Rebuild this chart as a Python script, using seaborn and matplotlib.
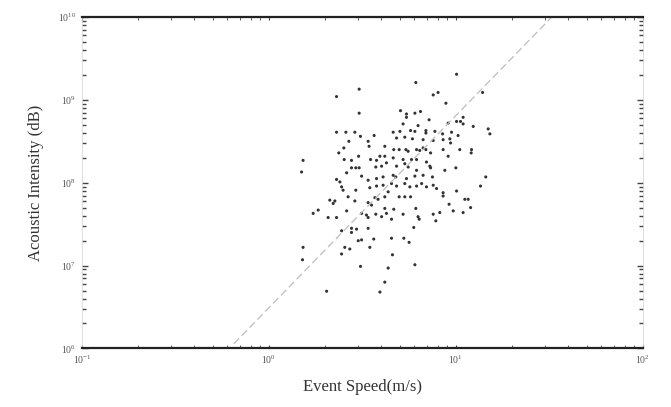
import numpy as np
import pandas as pd
import matplotlib
matplotlib.use('Agg')
import matplotlib.pyplot as plt
import seaborn as sns
from matplotlib.ticker import LogLocator, NullFormatter

# log10 of event speed (m/s) and acoustic intensity
speed_exp = [
    0.483, 0.362, 0.483, 0.362, 0.412, 0.460, 0.490, 0.563, 0.428, 0.531,
    0.536, 0.620, 0.401, 0.374, 0.480, 0.594, 0.620, 0.183, 0.403, 0.442,
    0.544, 0.576, 0.175, 0.442, 0.465, 0.483, 0.416, 0.496, 0.572, 0.603,
    0.629, 0.362, 0.380, 0.531, 0.576, 0.611, 0.389, 0.397, 0.465, 0.540,
    0.576, 0.611, 0.638,
    1.004, 0.786, 0.879, 0.905, 1.143, 0.947, 0.704, 0.736, 0.781, 0.811,
    0.736, 0.857, 1.039, 0.718, 0.798, 0.959, 1.004, 1.025, 1.039, 1.093,
    1.173, 0.665, 0.701, 0.758, 0.781, 0.840, 0.840, 0.888, 0.929, 0.977,
    1.012, 1.182, 0.683, 0.727, 0.768, 0.825, 0.879, 0.932, 0.968, 0.972,
    0.668, 0.697, 0.733, 0.745, 0.790, 0.807, 0.825, 0.840, 0.865, 0.932,
    0.959, 1.021, 1.084, 1.082, 0.665, 0.718, 0.763, 0.790, 0.843,
    0.683, 0.727, 0.745, 0.790, 0.861, 0.865, 0.941, 1.000, 0.665, 0.679,
    0.736, 0.781, 0.825, 0.875, 1.160, 0.656, 0.683, 0.727, 0.754, 0.790,
    0.817, 0.843, 0.879, 0.897, 0.932, 1.004, 1.132,
    0.326, 0.353, 0.344, 0.424, 0.460, 0.531, 0.549, 0.567, 0.584, 0.620,
    0.264, 0.237, 0.416, 0.496, 0.522, 0.531, 0.572, 0.603, 0.629, 0.317,
    0.362, 0.620, 0.389, 0.442, 0.469, 0.442, 0.531, 0.478, 0.496, 0.561,
    0.183, 0.406, 0.433, 0.389, 0.540, 0.180, 0.490, 0.638, 0.620, 0.309,
    0.594,
    0.697, 0.727, 0.758, 0.932, 1.048, 1.066, 0.668, 0.718, 0.786, 0.798,
    0.804, 0.879, 0.914, 0.893, 0.964, 0.986, 1.039, 1.079, 0.656, 0.775,
    0.656, 0.722, 0.750, 0.661, 0.781,
]
intensity_exp = [
    9.13, 9.04, 8.84, 8.61, 8.61, 8.61, 8.56, 8.57, 8.50, 8.50,
    8.44, 8.44, 8.42, 8.36, 8.32, 8.32, 8.32, 8.27, 8.28, 8.27,
    8.28, 8.27, 8.13, 8.18, 8.18, 8.18, 8.12, 8.08, 8.19, 8.20,
    8.24, 8.04, 8.01, 8.03, 8.05, 8.07, 7.95, 7.91, 7.91, 7.94,
    7.96, 7.97, 7.89,
    9.31, 9.21, 9.06, 9.09, 9.09, 8.96, 8.87, 8.83, 8.84, 8.86,
    8.79, 8.76, 8.79, 8.71, 8.69, 8.72, 8.74, 8.74, 8.71, 8.68,
    8.65, 8.61, 8.62, 8.63, 8.62, 8.63, 8.60, 8.62, 8.59, 8.61,
    8.57, 8.59, 8.54, 8.55, 8.53, 8.52, 8.51, 8.52, 8.53, 8.48,
    8.40, 8.40, 8.40, 8.38, 8.40, 8.39, 8.42, 8.40, 8.36, 8.40,
    8.32, 8.40, 8.40, 8.36, 8.30, 8.28, 8.28, 8.28, 8.25,
    8.20, 8.23, 8.19, 8.15, 8.20, 8.18, 8.15, 8.18, 8.09, 8.07,
    8.05, 8.08, 8.09, 8.07, 8.07, 7.99, 7.96, 7.99, 7.95, 7.96,
    7.99, 7.95, 7.97, 7.93, 7.88, 7.90, 7.96,
    7.79, 7.78, 7.75, 7.83, 7.78, 7.76, 7.73, 7.82, 7.80, 7.83,
    7.67, 7.63, 7.66, 7.63, 7.61, 7.58, 7.62, 7.59, 7.63, 7.58,
    7.58, 7.69, 7.42, 7.45, 7.44, 7.40, 7.45, 7.30, 7.31, 7.32,
    7.22, 7.22, 7.20, 7.14, 7.22, 7.07, 6.99, 6.97, 6.80, 6.69,
    6.68,
    7.83, 7.83, 7.83, 7.84, 7.80, 7.80, 7.68, 7.62, 7.69, 7.59,
    7.56, 7.62, 7.64, 7.54, 7.74, 7.66, 7.64, 7.70, 7.56, 7.46,
    7.33, 7.33, 7.28, 7.13, 7.01,
]

# fitted power law: log10(I) = fit_intercept + fit_slope * log10(v)
fit_slope = 2.32
fit_intercept = 6.49
fit_range = [0.65, 40.0]

df = pd.DataFrame({'speed': 10.0 ** np.array(speed_exp),
                   'intensity': 10.0 ** np.array(intensity_exp)})
fit_x = np.geomspace(fit_range[0], fit_range[1], 60)
fit = pd.DataFrame({'speed': fit_x,
                    'intensity': 10.0 ** fit_intercept * fit_x ** fit_slope})

sns.set_style('ticks')
plt.rcParams['font.family'] = ['Liberation Serif', 'DejaVu Serif']
plt.rcParams['mathtext.fontset'] = 'stix'

fig = plt.figure(figsize=(6.71, 4.07), dpi=100)
ax = fig.add_axes([0.122, 0.144, 0.836, 0.814])
ax.set_xscale('log')
ax.set_yscale('log')

sns.lineplot(data=fit, x='speed', y='intensity', color='#bdbdbd', lw=0.9,
             linestyle=(0, (6, 3)), estimator=None, ax=ax)
sns.scatterplot(data=df, x='speed', y='intensity', s=5, color='#333333',
                edgecolor='none', ax=ax)

ax.set_xlim(0.1, 100)
ax.set_ylim(1e6, 1e10)

for side in ['top', 'bottom']:
    ax.spines[side].set_linewidth(1.6)
    ax.spines[side].set_color('#222222')
for side in ['left', 'right']:
    ax.spines[side].set_linewidth(0.5)
    ax.spines[side].set_color('#d0d0d0')

ax.yaxis.set_minor_locator(LogLocator(base=10, subs=np.arange(2, 10), numticks=20))
ax.yaxis.set_minor_formatter(NullFormatter())
ax.xaxis.set_minor_formatter(NullFormatter())
ax.tick_params(axis='y', which='both', direction='in', left=True, right=True,
               color='#444444', width=1.0)
ax.tick_params(axis='y', which='major', length=4)
ax.tick_params(axis='y', which='minor', length=3)
ax.tick_params(axis='x', which='both', direction='in', top=True, bottom=True,
               color='#444444', length=2)
ax.tick_params(axis='both', which='major', labelsize=7, labelcolor='#555555', pad=4)

ax.set_xlabel('Event Speed(m/s)', fontsize=12, color='#333333', labelpad=9)
ax.set_ylabel('Acoustic Intensity (dB)', fontsize=12, color='#333333', labelpad=10)

fig.savefig('out.png', dpi=100)
